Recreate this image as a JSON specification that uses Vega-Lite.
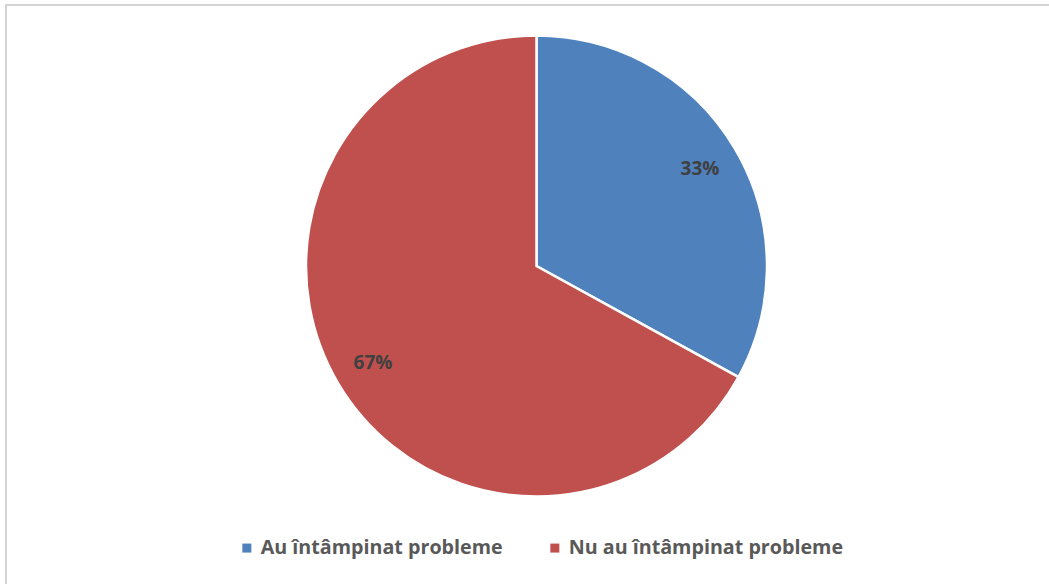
{
  "$schema": "https://vega.github.io/schema/vega-lite/v6.json",
  "width": 1061,
  "height": 600,
  "autosize": {"type": "none"},
  "padding": {"left": 6, "top": 5, "right": 0, "bottom": 0},
  "background": "white",
  "view": {"stroke": "#d4d4d4", "strokeWidth": 2, "fill": "white"},
  "config": {"view": {"stroke": "#d4d4d4", "strokeWidth": 2}, "style": {"cell": {"stroke": "#d4d4d4", "strokeWidth": 2}}},
  "data": {
    "values": [
      {"categorie": "Au întâmpinat probleme", "procent": 33, "eticheta": "33%", "ordine": 1},
      {"categorie": "Nu au întâmpinat probleme", "procent": 67, "eticheta": "67%", "ordine": 2}
    ]
  },
  "encoding": {
    "theta": {"field": "procent", "type": "quantitative", "stack": true},
    "order": {"field": "ordine", "type": "quantitative"}
  },
  "layer": [
    {
      "mark": {"type": "arc", "outerRadius": 230.5, "stroke": "white", "strokeWidth": 2.5, "yOffset": -39},
      "encoding": {
        "color": {
          "field": "categorie",
          "type": "nominal",
          "scale": {"domain": ["Au întâmpinat probleme", "Nu au întâmpinat probleme"], "range": ["#4f81bd", "#c0504d"]},
          "legend": {
            "title": null,
            "orient": "none",
            "direction": "horizontal",
            "legendX": 231,
            "legendY": 533,
            "symbolType": "square",
            "symbolSize": 81,
            "symbolStrokeWidth": 0,
            "labelFont": "Open Sans",
            "labelFontWeight": "bold",
            "labelFontSize": 19.7,
            "labelColor": "#595959",
            "labelLimit": 400,
            "columnPadding": 42,
            "symbolOffset": 0
          }
        }
      }
    },
    {
      "mark": {"type": "text", "radius": 190, "yOffset": -39, "font": "Open Sans", "fontWeight": "bold", "fontSize": 19, "fill": "#404040", "align": "center", "baseline": "middle"},
      "encoding": {"text": {"field": "eticheta", "type": "nominal"}}
    }
  ]
}
